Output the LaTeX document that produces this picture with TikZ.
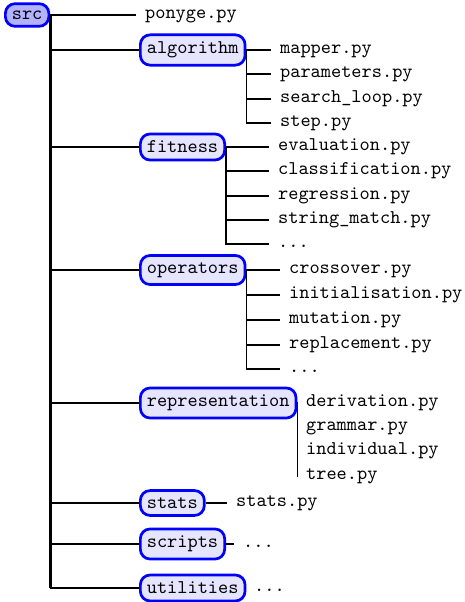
\documentclass[tikz,border=0pt]{standalone}
\usepackage{amsmath,amssymb}

\begin{document}
\begin{tikzpicture}[x=.515pt,y=-.515pt,font=\ttfamily,
  dirbox/.style={draw=blue,line width=1.4pt,rounded corners=5pt,fill=blue!10,anchor=west,inner ysep=3.6pt},
  rootbox/.style={dirbox,fill=blue!30},
  file/.style={anchor=west,inner xsep=4.5pt,inner ysep=0pt,text height=6pt,text depth=2pt},
  branch/.style={line width=.6pt},
  trunk/.style={line width=1.6pt}]
\path[use as bounding box] (0,0) rectangle (464,602);

% top level
\node[rootbox] (src) at (4,15) {src};
\node[file] (ponyge) at (136,15) {ponyge.py};
\node[dirbox] (algorithm) at (139,50) {algorithm};
\node[dirbox] (fitness) at (139,147) {fitness};
\node[dirbox] (operators) at (139,270) {operators};
\node[dirbox] (representation) at (139,403) {representation};
\node[dirbox] (stats) at (139,503) {stats};
\node[dirbox] (scripts) at (139,544) {scripts};
\node[dirbox] (utilities) at (139,588) {utilities};

% algorithm
\node[file] (mapper) at (271,50) {mapper.py};
\node[file] (parameters) at (271,74) {parameters.py};
\node[file] (searchloop) at (271,99) {search\_loop.py};
\node[file] (steppy) at (271,123) {step.py};

% fitness
\node[file] (evaluation) at (269,147) {evaluation.py};
\node[file] (classification) at (269,171) {classification.py};
\node[file] (regression) at (269,196) {regression.py};
\node[file] (stringmatch) at (269,220) {string\_match.py};
\node[file] (fitmore) at (269,244) {...};

% operators
\node[file] (crossover) at (280,270) {crossover.py};
\node[file] (initialisation) at (280,295) {initialisation.py};
\node[file] (mutation) at (280,320) {mutation.py};
\node[file] (replacement) at (280,345) {replacement.py};
\node[file] (opmore) at (280,369) {...};

% representation
\node[file] (derivation) at (297,403) {derivation.py};
\node[file] (grammar) at (297,427) {grammar.py};
\node[file] (individual) at (297,451) {individual.py};
\node[file] (tree) at (297,476) {tree.py};

% the rest
\node[file] (statspy) at (227,503) {stats.py};
\node[file] (scriptmore) at (234,544) {...};
\node[file] (utilmore) at (245,588) {...};

% connectors
\foreach \c in {ponyge,algorithm,fitness,operators,representation,stats,scripts,utilities}
  \draw[branch] (src.east) |- (\c.west);
\draw[trunk] (src.east) -- (src.east |- utilities.west);
\foreach \c in {mapper,parameters,searchloop,steppy}
  \draw[branch] (algorithm.east) |- (\c.west);
\foreach \c in {evaluation,classification,regression,stringmatch,fitmore}
  \draw[branch] (fitness.east) |- (\c.west);
\foreach \c in {crossover,initialisation,mutation,replacement,opmore}
  \draw[branch] (operators.east) |- (\c.west);
\foreach \c in {derivation,grammar,individual,tree}
  \draw[branch] (representation.east) |- (\c.west);
\draw[branch] (stats.east) -- (statspy.west);
\draw[branch] (scripts.east) -- (scriptmore.west);
\draw[branch] (utilities.east) -- (utilmore.west);
\end{tikzpicture}
\end{document}
